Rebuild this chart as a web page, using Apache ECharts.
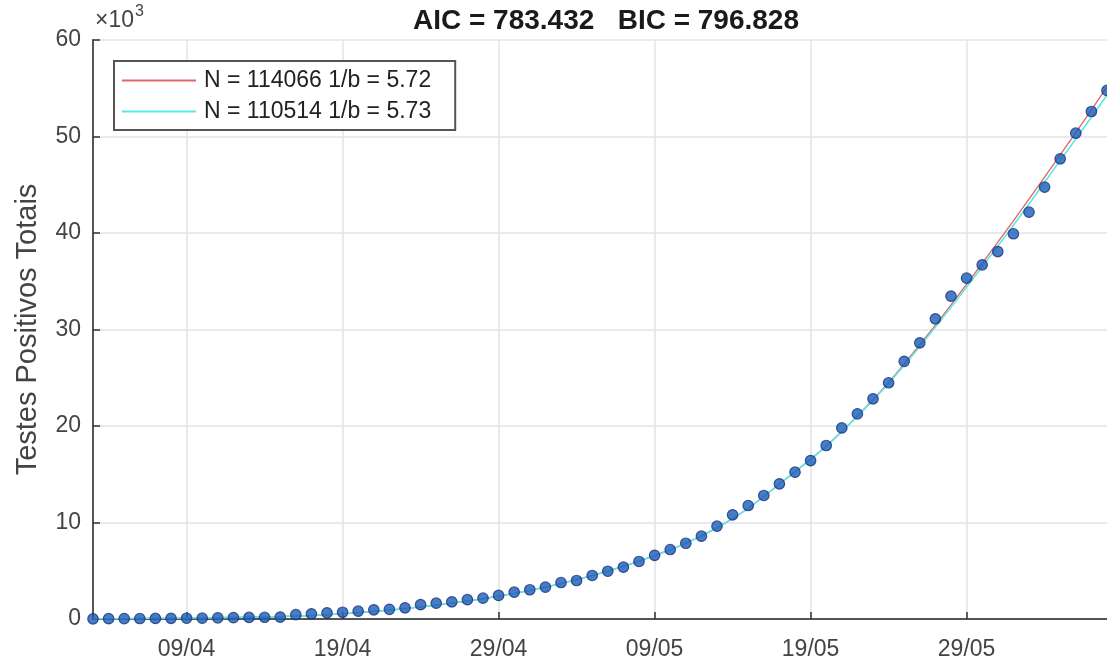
<!DOCTYPE html>
<html>
<head>
<meta charset="utf-8">
<script src="https://cdn.jsdelivr.net/npm/echarts@6/dist/echarts.min.js"></script>
<style>
html,body{margin:0;padding:0;background:#fff;}
#chart{width:1107px;height:666px;}
</style>
</head>
<body>
<div id="chart"></div>
<script>
var dates = ["03/04","04/04","05/04","06/04","07/04","08/04","09/04","10/04","11/04","12/04","13/04","14/04","15/04","16/04","17/04","18/04","19/04","20/04","21/04","22/04","23/04","24/04","25/04","26/04","27/04","28/04","29/04","30/04",
"01/05","02/05","03/05","04/05","05/05","06/05","07/05","08/05","09/05","10/05","11/05","12/05","13/05","14/05","15/05","16/05","17/05","18/05","19/05","20/05","21/05","22/05","23/05","24/05","25/05","26/05","27/05","28/05","29/05","30/05","31/05",
"01/06","02/06","03/06","04/06","05/06","06/06","07/06"];
var tickLabels = ["09/04","19/04","29/04","09/05","19/05","29/05"];
var yTicks = [0,10000,20000,30000,40000,50000,60000];

var positives = [20,30,40,50,60,70,80,90,120,140,160,180,200,
450,540,640,700,810,950,1000,1160,1480,1640,1780,2000,
2160,2440,2780,3030,3300,3780,3990,4510,4950,5370,5960,6600,
7200,7850,8580,9620,10800,11760,12800,14010,15210,16420,17980,19800,
21260,22820,24480,26700,28620,31110,33450,35320,36700,38080,39920,42160,
44750,47690,50340,52590,54770];

var fitCyan = [20,30,40,55,70,85,100,120,140,165,190,220,255,
300,360,440,540,650,780,920,1080,1250,1440,1640,1860,
2100,2360,2650,2960,3300,3670,4070,4500,4960,5460,5990,
6560,7170,7850,8600,9450,10400,11450,12700,
14000,15250,16550,17900,19400,21000,22650,24400,26300,28250,30250,32300,34400,36500,38650,40800,43000,45250,47500,49750,52000,54300];

var fitRed = [20,30,40,55,70,85,100,120,140,165,190,220,255,
300,360,440,540,650,780,920,1080,1250,1440,1640,1860,
2100,2360,2650,2960,3300,3670,4070,4500,4960,5460,5990,
6560,7170,7850,8600,9450,10400,11450,12700,
14000,15250,16550,17900,19420,21040,22720,24500,26430,28420,30460,32560,34700,36850,39050,41250,43500,45800,48100,50400,52750,55150];

var legendRed = "N = 114066 1/b = 5.72";
var legendCyan = "N = 110514 1/b = 5.73";
var titleText = "AIC = 783.432   BIC = 796.828";
var yName = "Testes Positivos Totais";

function isTick(idx, val){ return tickLabels.indexOf(val) >= 0; }

var chart = echarts.init(document.getElementById('chart'), null, {renderer:'canvas'});
var fontFam = '"Liberation Sans", Arial, Helvetica, sans-serif';
chart.setOption({
  animation:false,
  backgroundColor:'#fff',
  title:{text:titleText,left:601,textAlign:'center',top:2,
    textStyle:{fontFamily:fontFam,fontSize:28,fontWeight:'bold',color:'#1a1a1a'}},
  grid:{left:93,right:0,top:40,bottom:47,containLabel:false},
  legend:{
    orient:'vertical',left:114,top:61,
    data:[{name:legendRed},{name:legendCyan}],
    icon:'rect',itemWidth:74,itemHeight:2,itemGap:8,
    backgroundColor:'#fff',borderColor:'#555',borderWidth:2,
    padding:[8,24,7,8],borderRadius:0,
    textStyle:{fontFamily:fontFam,fontSize:23,color:'#222',padding:[0,0,0,3]}
  },
  xAxis:{
    type:'category',data:dates,boundaryGap:false,
    axisLine:{show:true,lineStyle:{color:'#555',width:2}},
    axisTick:{show:true,inside:true,length:7,interval:isTick,lineStyle:{color:'#333',width:1.5}},
    axisLabel:{interval:isTick,margin:19,fontFamily:fontFam,fontSize:23,color:'#444'},
    splitLine:{show:true,interval:isTick,lineStyle:{color:'#e3e3e3',width:1.5}}
  },
  yAxis:{
    type:'value',min:yTicks[0],max:yTicks[yTicks.length-1],interval:10000,
    name:yName,nameLocation:'middle',nameGap:51,nameRotate:90,
    nameTextStyle:{fontFamily:fontFam,fontSize:29,color:'#444'},
    axisLine:{show:true,lineStyle:{color:'#555',width:2}},
    axisTick:{show:true,inside:true,length:7,lineStyle:{color:'#333',width:1.5}},
    axisLabel:{margin:12,fontFamily:fontFam,fontSize:23,color:'#444',
      formatter:function(v){return String(v/1000);}},
    splitLine:{show:true,lineStyle:{color:'#e3e3e3',width:1.5}}
  },
  graphic:[{type:'text',left:95,top:4,
    style:{text:'{a|×10}{b|3}',rich:{
      a:{fontFamily:fontFam,fontSize:23,fill:'#444',verticalAlign:'bottom'},
      b:{fontFamily:fontFam,fontSize:16,fill:'#444',verticalAlign:'top',padding:[0,0,12,1]}}}}],
  series:[
    {name:legendRed,type:'line',data:fitRed,showSymbol:false,symbol:'none',z:2,
      lineStyle:{color:'#e06464',width:1.3},itemStyle:{color:'#e06464'}},
    {name:legendCyan,type:'line',data:fitCyan,showSymbol:false,symbol:'none',z:3,
      lineStyle:{color:'#5fe6e6',width:1.6},itemStyle:{color:'#5fe6e6'}},
    {name:'dados',type:'scatter',data:positives,symbol:'circle',symbolSize:10.5,z:4,
      itemStyle:{color:'#1a5bb8',borderColor:'#16357a',borderWidth:1.2}}
  ]
});
</script>
</body>
</html>
